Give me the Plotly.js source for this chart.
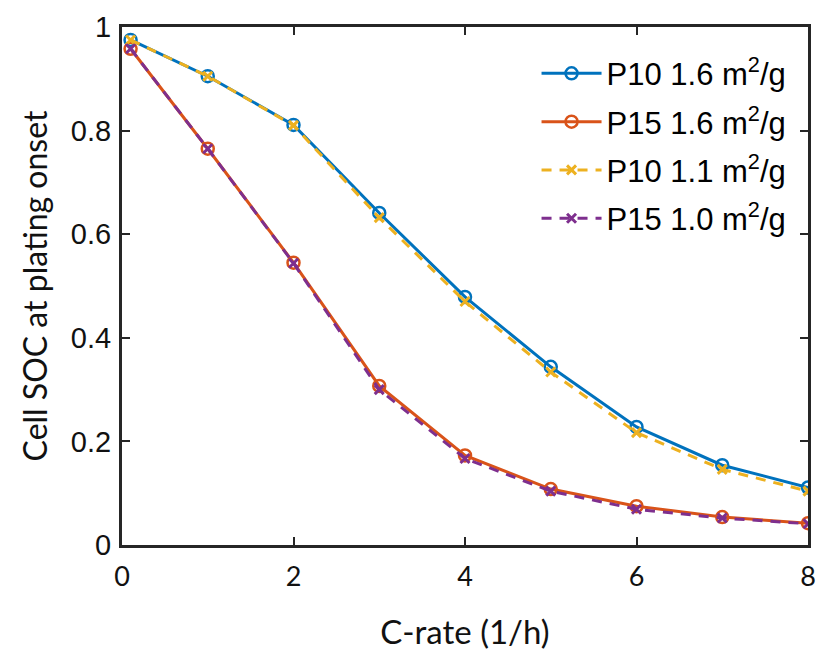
<!DOCTYPE html>
<html>
<head>
<meta charset="utf-8">
<script src="https://cdn.plot.ly/plotly-3.0.1.min.js"></script>
<style>html,body{margin:0;padding:0;background:#fff;}#chart{width:819px;height:652px;}</style>
</head>
<body>
<div id="chart"></div>
<script>
// C-rate (1/h)
const cRate = [0.1, 1, 2, 3, 4, 5, 6, 7, 8];
// Cell SOC at plating onset
const p10_16 = [0.975, 0.905, 0.811, 0.641, 0.479, 0.344, 0.228, 0.154, 0.111];
const p15_16 = [0.958, 0.765, 0.545, 0.307, 0.173, 0.108, 0.075, 0.054, 0.042];
const p10_11 = [0.975, 0.905, 0.810, 0.632, 0.470, 0.334, 0.217, 0.146, 0.104];
const p15_10 = [0.958, 0.765, 0.544, 0.300, 0.167, 0.104, 0.069, 0.052, 0.041];
const seriesNames = ['P10 1.6 m<sup>2</sup>/g', 'P15 1.6 m<sup>2</sup>/g', 'P10 1.1 m<sup>2</sup>/g', 'P15 1.0 m<sup>2</sup>/g'];
const xTicks = [0, 2, 4, 6, 8];
const yTicks = [0, 0.2, 0.4, 0.6, 0.8, 1];
const yTickText = ['0', '0.2', '0.4', '0.6', '0.8', '1'];

const blue = '#0072BD', orange = '#D95319', yellow = '#EDB120', purple = '#7E2F8E';

const traces = [
  {x: cRate, y: p10_16, name: seriesNames[0], legendgroup: 'a', mode: 'lines+markers',
   line: {color: blue, width: 3},
   marker: {symbol: 'circle-open', size: 12, color: blue, line: {width: 2.5, color: blue}}},
  {x: cRate, y: p15_16, name: seriesNames[1], legendgroup: 'b', mode: 'lines+markers',
   line: {color: orange, width: 3},
   marker: {symbol: 'circle-open', size: 12, color: orange, line: {width: 2.5, color: orange}}},
  {x: cRate, y: p10_11, name: seriesNames[2], legendgroup: 'c', mode: 'lines+markers',
   line: {color: yellow, width: 3, dash: '10px,8px'},
   marker: {symbol: 'x-thin-open', size: 9, color: yellow, line: {width: 3, color: yellow}}},
  {x: cRate, y: p15_10, name: seriesNames[3], legendgroup: 'd', mode: 'lines+markers',
   line: {color: purple, width: 3, dash: '10px,8px'},
   marker: {symbol: 'x-thin-open', size: 9, color: purple, line: {width: 3, color: purple}}}
];

const axisColor = '#262626';
const layout = {
  width: 819, height: 652,
  margin: {l: 122, r: 11, t: 27, b: 107},
  paper_bgcolor: '#fff', plot_bgcolor: '#fff',
  showlegend: true,
  legend: {x: 0.976, y: 0.962, xanchor: 'right', yanchor: 'top',
    bgcolor: 'rgba(255,255,255,0)', borderwidth: 0,
    font: {family: 'Liberation Sans, Arial, sans-serif', size: 31, color: '#000'},
    tracegroupgap: 5, itemwidth: 60},
  xaxis: {
    range: [0, 8], tickvals: xTicks, ticktext: xTicks.map(String),
    showgrid: false, zeroline: false,
    showline: true, mirror: 'ticks', linecolor: axisColor, linewidth: 3,
    ticks: 'inside', ticklen: 8, tickwidth: 2, tickcolor: axisColor,
    ticklabelstandoff: 6,
    tickfont: {family: 'Lato, sans-serif', size: 27, color: '#111'},
    title: {text: 'C-rate (1/h)', font: {family: 'Lato, sans-serif', size: 33, color: '#111'}, standoff: 30}
  },
  yaxis: {
    range: [0, 1], tickvals: yTicks, ticktext: yTickText,
    showgrid: false, zeroline: false,
    showline: true, mirror: 'ticks', linecolor: axisColor, linewidth: 3,
    ticks: 'inside', ticklen: 8, tickwidth: 2, tickcolor: axisColor,
    ticklabelstandoff: 2,
    tickfont: {family: 'Liberation Sans, Arial, sans-serif', size: 29, color: '#111'},
    title: {text: 'Cell SOC at plating onset', font: {family: 'Lato, sans-serif', size: 32, color: '#111'}, standoff: 14}
  }
};

Plotly.newPlot('chart', traces, layout, {displayModeBar: false, staticPlot: true});
</script>
</body>
</html>
